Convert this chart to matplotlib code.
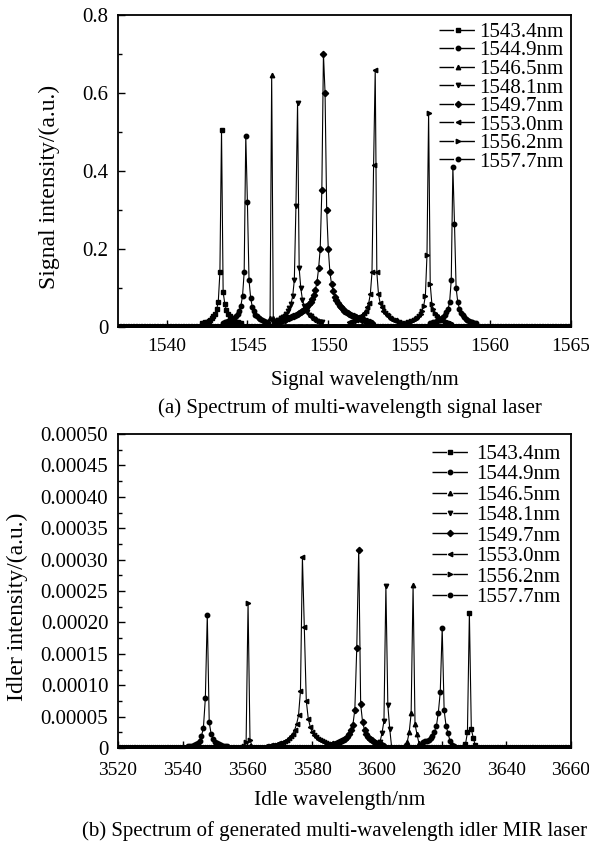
import numpy as np
import matplotlib.pyplot as plt
from matplotlib.ticker import MultipleLocator, FuncFormatter

plt.rcParams['font.family'] = ['Liberation Serif', 'DejaVu Serif']

# legend labels (signal wavelengths) and marker per series
labels = ['1543.4nm', '1544.9nm', '1546.5nm', '1548.1nm',
          '1549.7nm', '1553.0nm', '1556.2nm', '1557.7nm']
markers = ['s', 'o', '^', 'v', 'D', '<', '>', 'o']

# (a) signal spectra, sampled every 0.1 nm, zero outside the listed part
sig_x0, sig_x1, sig_step = 1537.0, 1565.0, 0.1
sig_start = [1542.2, 1543.5, 1546.4, 1546.6, 1546.7, 1551.3, 1554.8, 1556.3]
sig_vals = [
    [0.010, 0.011, 0.012, 0.014, 0.016, 0.019, 0.023, 0.028, 0.034, 0.045, 0.065, 0.14,
     0.505,
     0.09, 0.06, 0.043, 0.033, 0.027, 0.022, 0.019, 0.016, 0.014, 0.012, 0.011, 0.010],
    [0.011, 0.012, 0.013, 0.015, 0.016, 0.018, 0.021, 0.024, 0.028, 0.034, 0.042, 0.055, 0.08, 0.14,
     0.49,
     0.32, 0.12, 0.075, 0.052, 0.04, 0.032, 0.027, 0.023, 0.02, 0.018, 0.016, 0.014, 0.012, 0.011],
    [0.022, 0.645, 0.022],
    [0.012, 0.013, 0.015, 0.017, 0.019, 0.022, 0.025, 0.029, 0.034, 0.04, 0.048, 0.06, 0.08, 0.12, 0.31,
     0.575,
     0.15, 0.10, 0.07, 0.055, 0.045, 0.038, 0.032, 0.027, 0.023, 0.02, 0.018, 0.016, 0.014, 0.013, 0.012],
    [0.011, 0.012, 0.013, 0.0145, 0.016, 0.0175, 0.019, 0.0205, 0.022, 0.0235, 0.025, 0.027, 0.029,
     0.031, 0.033, 0.035, 0.038, 0.041, 0.044, 0.048, 0.053, 0.058, 0.064, 0.072, 0.082, 0.095,
     0.115, 0.15, 0.20, 0.35,
     0.70,
     0.60, 0.30, 0.20, 0.14, 0.11, 0.092, 0.078, 0.068, 0.061, 0.055, 0.05, 0.046, 0.042, 0.039,
     0.036, 0.033, 0.031, 0.029, 0.027, 0.025, 0.0235, 0.022, 0.0205, 0.019, 0.0175, 0.016, 0.0145,
     0.013, 0.012, 0.011],
    [0.012, 0.014, 0.015, 0.017, 0.019, 0.021, 0.024, 0.027, 0.031, 0.036, 0.042, 0.05, 0.062, 0.085,
     0.14, 0.415,
     0.66,
     0.14, 0.085, 0.062, 0.05, 0.042, 0.036, 0.031, 0.027, 0.024, 0.021, 0.019, 0.017, 0.015, 0.014,
     0.012, 0.011],
    [0.011, 0.012, 0.013, 0.015, 0.016, 0.018, 0.021, 0.024, 0.028, 0.034, 0.042, 0.055, 0.08, 0.185,
     0.55,
     0.11, 0.06, 0.045, 0.036, 0.03, 0.026, 0.022, 0.019, 0.017, 0.015, 0.014, 0.012, 0.011, 0.010],
    [0.010, 0.011, 0.012, 0.014, 0.015, 0.017, 0.019, 0.022, 0.026, 0.031, 0.038, 0.045, 0.065, 0.12,
     0.41,
     0.265, 0.10, 0.065, 0.047, 0.037, 0.03, 0.025, 0.021, 0.018, 0.016, 0.014, 0.012, 0.011, 0.010],
]

# (b) idler spectra, sampled every 0.6 nm, values in units of 1e-5
idl_x0, idl_x1, idl_step = 3520.0, 3660.0, 0.6
idl_unit = 1e-5
idl_start = [3626.8, 3614.2, 3608.8, 3600.4, 3584.8, 3565.6, 3559.0, 3541.6]
idl_vals = [
    [0.2, 0.6, 2.5, 21.5, 3.0, 1.6, 0.5],
    [1.0, 1.1, 1.1, 1.2, 1.6, 1.9, 2.6, 3.5, 5.6, 8.9, 19.1, 6.0, 3.5, 2.4, 1.1, 0.5, 0.3],
    [0.5, 1.0, 2.5, 5.5, 25.9, 3.8, 2.2, 0.8, 0.4],
    [0.5, 1.0, 2.4, 4.3, 25.8, 6.8, 3.0],
    [0.4, 0.45, 0.5, 0.6, 0.7, 0.8, 0.9, 1.05, 1.25, 1.5, 1.8, 2.2, 2.8, 3.7, 6.1, 16.0,
     31.6,
     7.0, 4.1, 2.9, 2.2, 1.8, 1.5, 1.2, 1.0, 0.85, 0.7, 0.6, 0.5, 0.4],
    [0.3, 0.35, 0.4, 0.45, 0.5, 0.55, 0.65, 0.75, 0.85, 1.0, 1.15, 1.35, 1.6, 1.9, 2.3, 2.9, 3.8,
     5.2, 9.1,
     30.4,
     19.2, 7.5, 4.7, 3.4, 2.6, 2.1, 1.7, 1.45, 1.25, 1.05, 0.9, 0.8, 0.7, 0.6, 0.5, 0.45, 0.4],
    [0.4, 1.0, 23.1, 1.25, 0.4],
    [0.3, 0.35, 0.4, 0.5, 0.6, 0.8, 1.1, 1.9, 3.2, 7.9, 21.2, 4.1, 2.2, 1.4, 1.0, 0.75, 0.6, 0.5,
     0.4, 0.35, 0.3],
]


def spectrum(x0, x1, step, start, vals, scale=1.0):
    n = int(round((x1 - x0) / step)) + 1
    x = x0 + step * np.arange(n)
    y = np.zeros(n)
    i0 = int(round((start - x0) / step))
    y[i0:i0 + len(vals)] = np.array(vals) * scale
    return x, y


def style_axes(ax, xpad):
    ax.tick_params(which='both', direction='in', top=False, right=False)
    ax.tick_params(axis='y', labelsize=15, pad=7)
    ax.tick_params(axis='x', labelsize=14, pad=xpad)
    ax.tick_params(which='major', length=5, width=1)
    ax.tick_params(which='minor', length=3, width=1)
    for s in ax.spines.values():
        s.set_linewidth(1.3)


def dash_legend(leg):
    for ln in leg.get_lines():
        ln.set_linestyle((0, (10.5, 4.5)))
        ln.set_linewidth(1.0)


fig = plt.figure(figsize=(5.89, 8.48), dpi=100)
ax1 = fig.add_axes([0.2003, 0.6144, 0.7691, 0.3679])
ax2 = fig.add_axes([0.2003, 0.1179, 0.7691, 0.3703])

for i in range(len(labels)):
    x, y = spectrum(sig_x0, sig_x1, sig_step, sig_start[i], sig_vals[i])
    ax1.plot(x, y, color='black', lw=0.8, marker=markers[i], ms=3.2, label=labels[i])
    x, y = spectrum(idl_x0, idl_x1, idl_step, idl_start[i], idl_vals[i], idl_unit)
    ax2.plot(x, y, color='black', lw=0.8, marker=markers[i], ms=3.2, label=labels[i])

ax1.set_xlim(1537, 1565)
ax1.set_ylim(0, 0.8)
ax1.xaxis.set_major_locator(MultipleLocator(5))
ax1.yaxis.set_major_locator(MultipleLocator(0.2))
ax1.yaxis.set_minor_locator(MultipleLocator(0.1))
ax1.yaxis.set_major_formatter(FuncFormatter(lambda v, p: '0' if abs(v) < 1e-9 else '%.1f' % v))
style_axes(ax1, 8)
ax1.set_xlabel('Signal wavelength/nm', fontsize=15)
ax1.set_ylabel('Signal intensity/(a.u.)', fontsize=17)
ax1.xaxis.set_label_coords(0.545, -0.17)
ax1.xaxis.label.set_va('center')
ax1.yaxis.set_label_coords(-0.152, 0.45)
ax1.yaxis.label.set_va('center')
leg1 = ax1.legend(loc='upper right', frameon=False, fontsize=15, handlelength=1.8,
                  handletextpad=0.15, labelspacing=-0.05, borderaxespad=0.15, borderpad=0.2)
dash_legend(leg1)

ax2.set_xlim(3520, 3660)
ax2.set_ylim(0, 0.0005)
ax2.xaxis.set_major_locator(MultipleLocator(20))
ax2.yaxis.set_major_locator(MultipleLocator(0.00005))
ax2.yaxis.set_minor_locator(MultipleLocator(0.000025))
ax2.yaxis.set_major_formatter(FuncFormatter(lambda v, p: '0' if abs(v) < 1e-12 else '%.5f' % v))
style_axes(ax2, 10)
ax2.set_xlabel('Idle wavelength/nm', fontsize=15.5)
ax2.set_ylabel('Idler intensity/(a.u.)', fontsize=17)
ax2.xaxis.set_label_coords(0.49, -0.166)
ax2.xaxis.label.set_va('center')
ax2.yaxis.set_label_coords(-0.223, 0.45)
ax2.yaxis.label.set_va('center')
leg2 = ax2.legend(loc='upper right', frameon=False, fontsize=15, handlelength=1.8,
                  handletextpad=0.35, labelspacing=0.04, borderaxespad=0.2, borderpad=0.3)
dash_legend(leg2)

fig.text(350 / 589, 1 - 408 / 848, '(a) Spectrum of multi-wavelength signal laser',
         ha='center', va='center', fontsize=15)
fig.text(587 / 589, 1 - 831 / 848, '(b) Spectrum of generated multi-wavelength idler MIR laser',
         ha='right', va='center', fontsize=15)

fig.savefig('out.png', dpi=100)
